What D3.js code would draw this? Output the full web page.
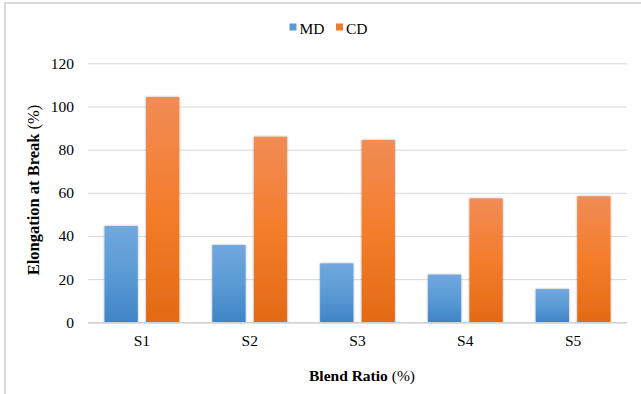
<!DOCTYPE html>
<html><head><meta charset="utf-8">
<script src="https://cdn.jsdelivr.net/npm/d3@7/dist/d3.min.js"></script>
<style>html,body{margin:0;padding:0;background:#fff;}svg{display:block;}
svg text{font-family:"Liberation Serif","Times New Roman",Tinos,"DejaVu Serif",serif;}</style>
</head><body>
<script>
const categories = ["S1","S2","S3","S4","S5"];
const seriesNames = ["MD","CD"];
const mdValues = [44.6, 35.8, 27.3, 22.1, 15.4];
const cdValues = [104.4, 86.0, 84.5, 57.4, 58.4];
const yTicks = [0,20,40,60,80,100,120];

(function(){
const W = 641, H = 394;
const svg = d3.select("body").append("svg").attr("width", W).attr("height", H);
const defs = svg.append("defs");

function grad(id, stops){
  const g = defs.append("linearGradient").attr("id", id).attr("x1",0).attr("y1",0).attr("x2",0).attr("y2",1);
  stops.forEach(s => g.append("stop").attr("offset", s[0]).attr("stop-color", s[1]));
}
grad("gMD", [[0,"#71a7dd"],[0.5,"#5b9bd5"],[1,"#3f84c6"]]);
grad("gCD", [[0,"#f08c55"],[0.5,"#f47d2b"],[1,"#e36a15"]]);
const f = defs.append("filter").attr("id","sh").attr("x","-20%").attr("y","-10%").attr("width","140%").attr("height","120%");
f.append("feDropShadow").attr("dx",0).attr("dy",0).attr("stdDeviation",1.2).attr("flood-color","#000").attr("flood-opacity",0.35);

// frame
svg.append("rect").attr("x",5).attr("y",3).attr("width",W+10).attr("height",H+10)
  .attr("fill","none").attr("stroke","#d9d9d9").attr("stroke-width",2);

const pLeft = 88, pRight = 627, pTop = 63.3, pBottom = 322.3;
const y = d3.scaleLinear().domain([0,120]).range([pBottom, pTop]);
const x0 = d3.scaleBand().domain(categories).range([pLeft,pRight]).paddingInner(0.306).paddingOuter(0.153);
const x1 = d3.scaleBand().domain(seriesNames).range([0, x0.bandwidth()]).paddingInner(0.198);
const color = {MD:"url(#gMD)", CD:"url(#gCD)"};
const legendColor = {MD:"#5b9bd5", CD:"#ed7d31"};

// gridlines via axis
const yAxis = svg.append("g").attr("transform",`translate(${pLeft},0)`)
  .call(d3.axisLeft(y).tickValues(yTicks).tickSize(-(pRight-pLeft)).tickPadding(14).tickFormat(d3.format("d")));
yAxis.attr("font-family", null);
yAxis.select(".domain").remove();
yAxis.selectAll(".tick line").attr("stroke","#d9d9d9").attr("stroke-width",1);
yAxis.selectAll(".tick text").attr("font-size",15.5).attr("fill","#000");

// bars
const rows = categories.map((c,i)=>({cat:c, MD:mdValues[i], CD:cdValues[i]}));
const groups = svg.append("g").selectAll("g").data(rows).join("g")
  .attr("transform", d=>`translate(${x0(d.cat)},0)`);
groups.selectAll("rect").data(d=>seriesNames.map(k=>({key:k, value:d[k]}))).join("rect")
  .attr("x", d=>x1(d.key)).attr("width", x1.bandwidth())
  .attr("y", d=>y(d.value)).attr("height", d=>y(0)-y(d.value))
  .attr("fill", d=>color[d.key]).attr("filter","url(#sh)");

// baseline
svg.append("line").attr("x1",pLeft).attr("x2",pRight).attr("y1",y(0)+0.5).attr("y2",y(0)+0.5)
  .attr("stroke","#d0d0d0").attr("stroke-width",1.5);

// x axis labels
const xAxis = svg.append("g").attr("transform",`translate(0,${pBottom})`)
  .call(d3.axisBottom(x0).tickSize(0).tickPadding(13));
xAxis.attr("font-family", null);
xAxis.select(".domain").remove();
xAxis.selectAll(".tick text").attr("font-size",15.5).attr("fill","#000");

// axis titles
const tx = svg.append("text").attr("x",362).attr("y",381).attr("text-anchor","middle")
  .attr("font-size",15.5).attr("fill","#000");
tx.append("tspan").attr("font-weight","bold").text("Blend Ratio ");
tx.append("tspan").text("(%)");

const ty = svg.append("text").attr("transform","translate(39,190) rotate(-90)").attr("text-anchor","middle")
  .attr("font-size",16.5).attr("fill","#000");
ty.append("tspan").attr("font-weight","bold").text("Elongation at Break ");
ty.append("tspan").text("(%)");

// legend
const legendX = {MD:289.5, CD:336};
const lg = svg.append("g");
seriesNames.forEach(k=>{
  lg.append("rect").attr("x",legendX[k]).attr("y",23.5).attr("width",7).attr("height",7).attr("fill",legendColor[k]);
  lg.append("text").attr("x",legendX[k]+10).attr("y",33.5)
    .attr("font-size",15.5).attr("fill","#000").text(k);
});
})();
</script>
</body></html>
